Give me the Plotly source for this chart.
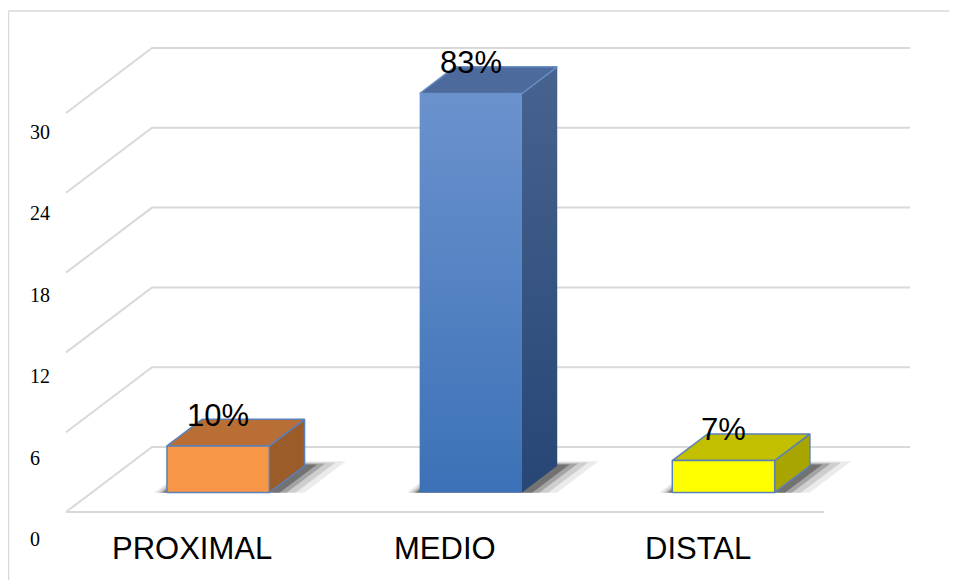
import plotly.graph_objects as go

# ---- data ----
categories = ["PROXIMAL", "MEDIO", "DISTAL"]
values = [3.5, 30, 2.4]
pct_labels = ["10%", "83%", "7%"]
tick_values = [0, 6, 12, 18, 24, 30]

# ---- styles ----
front_colors = ["#F79646", None, "#FFFF00"]
top_colors = ["#B86E34", "#4C6B9C", "#C2BE00"]
side_colors = ["#9C5C2A", None, "#A9A500"]
medio_front_grad = [[0, "#3C71B7"], [1, "#6B92CD"]]
medio_side_grad = [[0, "#274675"], [1, "#47638F"]]
edge_color = "#5B80B9"
grid_color = "#D9D9D9"

PAGE_OFF = 8  # page body margin in px

# oblique projection: depth d (0 = back wall, 1 = front floor edge)
PX_X = 252.67
PX_Y = 13.3
KX = -86 / PX_X
KY = -65 / PX_Y
D_FRONT, D_BACK = 0.70, 0.29
HALF_W = 0.2025
X_LEFT, X_RIGHT = -0.5, 2.5


def proj(x, v, d):
    return x + KX * d, v + KY * d


def poly(points):
    xs, ys = zip(*[proj(*p) for p in points])
    return list(xs) + [xs[0]], list(ys) + [ys[0]]


fig = go.Figure()

for t in tick_values:
    gx, gy = poly([(X_LEFT, t, 1), (X_LEFT, t, 0), (X_RIGHT, t, 0)])
    fig.add_trace(go.Scatter(x=gx[:-1], y=gy[:-1], mode="lines",
                             line=dict(color=grid_color, width=2),
                             hoverinfo="skip", showlegend=False))
fx, fy = poly([(X_LEFT, 0, 1), (X_RIGHT, 0, 1)])
fig.add_trace(go.Scatter(x=fx[:-1], y=fy[:-1], mode="lines",
                         line=dict(color=grid_color, width=2),
                         hoverinfo="skip", showlegend=False))

for i, (cat, v) in enumerate(zip(categories, values)):
    xl, xr = i - HALF_W, i + HALF_W
    for grow, alpha in [(0.10, 0.08), (0.075, 0.12), (0.05, 0.2), (0.03, 0.3)]:
        sx, sy = poly([(xl - grow * 0.5, 0, D_FRONT + 0.005),
                       (xr + grow * 1.4, 0, D_FRONT + 0.005),
                       (xr + grow * 1.4, 0, D_BACK - grow * 0.7),
                       (xl - grow * 0.5, 0, D_BACK - grow * 0.7)])
        fig.add_trace(go.Scatter(x=sx, y=sy, mode="lines", fill="toself",
                                 fillcolor=f"rgba(0,0,0,{alpha})",
                                 line=dict(width=0), hoverinfo="skip",
                                 showlegend=False))
    sx, sy = poly([(xr, 0, D_FRONT), (xr, v, D_FRONT), (xr, v, D_BACK), (xr, 0, D_BACK)])
    side = dict(x=sx, y=sy, mode="lines", fill="toself",
                line=dict(color=edge_color if side_colors[i] else "rgba(0,0,0,0)", width=1.5),
                hoverinfo="skip", showlegend=False)
    if side_colors[i]:
        side["fillcolor"] = side_colors[i]
    else:
        side["fillgradient"] = dict(type="vertical", colorscale=medio_side_grad)
    fig.add_trace(go.Scatter(**side))
    tx, ty = poly([(xl, v, D_FRONT), (xr, v, D_FRONT), (xr, v, D_BACK), (xl, v, D_BACK)])
    fig.add_trace(go.Scatter(x=tx, y=ty, mode="lines", fill="toself",
                             fillcolor=top_colors[i],
                             line=dict(color=edge_color if front_colors[i] else "#6A8DC4", width=1.5),
                             hoverinfo="skip", showlegend=False))
    ox, oy = poly([(xl, 0, D_FRONT), (xr, 0, D_FRONT), (xr, v, D_FRONT), (xl, v, D_FRONT)])
    front = dict(x=ox, y=oy, mode="lines", fill="toself",
                 line=dict(color=edge_color if front_colors[i] else "rgba(0,0,0,0)", width=1.5),
                 hoverinfo="skip", showlegend=False)
    if front_colors[i]:
        front["fillcolor"] = front_colors[i]
    else:
        front["fillgradient"] = dict(type="vertical", colorscale=medio_front_grad)
    fig.add_trace(go.Scatter(**front))

annotations = []
for i, (cat, v, lab) in enumerate(zip(categories, values, pct_labels)):
    lx, _ = proj(i, v, D_FRONT)
    _, ly = proj(i, v, D_BACK)
    annotations.append(dict(x=lx, y=ly, text=lab, showarrow=False,
                            xanchor="center", yanchor="middle", yshift=4,
                            font=dict(family="Liberation Sans, Arial", size=31, color="black")))
    cx, cy = proj(i, 0, 1)
    annotations.append(dict(x=cx, y=cy, text=cat, showarrow=False,
                            xanchor="center", yanchor="middle", yshift=-36,
                            font=dict(family="Liberation Sans, Arial", size=31, color="black")))
for t in tick_values:
    annotations.append(dict(x=(28 - PAGE_OFF) / 957, xref="paper", y=t * 1.02 - 6.92,
                            text=str(t), showarrow=False, xanchor="left", yanchor="middle",
                            font=dict(family="Liberation Serif, Times New Roman", size=20,
                                      color="black")))

x0 = X_LEFT - (152 - PAGE_OFF) / PX_X
y_top = (447 - PAGE_OFF) / PX_Y
fig.update_layout(
    width=957, height=580,
    margin=dict(l=0, r=0, t=0, b=0),
    paper_bgcolor="white", plot_bgcolor="white",
    xaxis=dict(range=[x0, x0 + 957 / PX_X], visible=False, fixedrange=True),
    yaxis=dict(range=[y_top - 580 / PX_Y, y_top], visible=False, fixedrange=True),
    annotations=annotations,
    shapes=[
        dict(type="line", xref="paper", yref="paper", x0=0.5 / 957, x1=1,
             y0=1 - (11 - PAGE_OFF) / 580, y1=1 - (11 - PAGE_OFF) / 580,
             line=dict(color="#D9D9D9", width=1.5)),
        dict(type="line", xref="paper", yref="paper", x0=0.5 / 957, x1=0.5 / 957, y0=0,
             y1=1 - (11 - PAGE_OFF) / 580, line=dict(color="#D9D9D9", width=1.5)),
    ],
    showlegend=False,
)

fig.write_html("out.html")
